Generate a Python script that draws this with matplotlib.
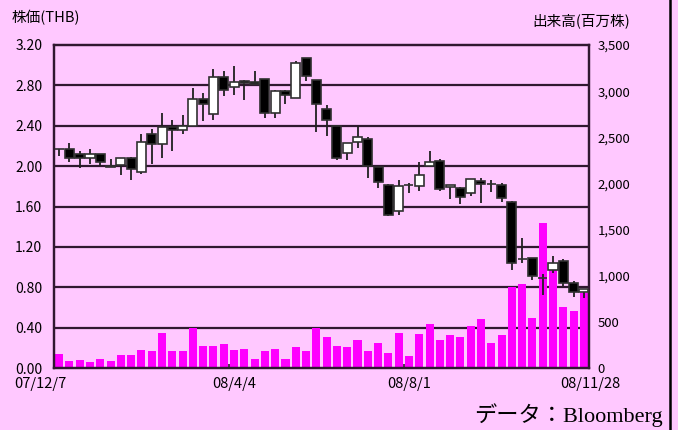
import numpy as np
import matplotlib
matplotlib.use("Agg")
from matplotlib import pyplot as plt
from matplotlib.lines import Line2D
from matplotlib.transforms import blended_transform_factory
from matplotlib.ticker import FuncFormatter

plt.rcParams['font.family'] = ['Noto Sans CJK JP', 'DejaVu Sans']

# weekly candles, 07/12/7 .. 08/11/28
opens = [2.17, 2.165, 2.12, 2.08, 2.12, 2.00, 2.01, 2.08, 1.94, 2.32,
         2.215, 2.385, 2.36, 2.40, 2.665, 2.515, 2.885, 2.78, 2.84, 2.83,
         2.86, 2.53, 2.745, 2.67, 3.07, 2.85, 2.565, 2.395, 2.13, 2.235,
         2.265, 1.995, 1.81, 1.555, 1.81, 1.805, 2.005, 2.05, 1.79, 1.78,
         1.735, 1.85, 1.82, 1.81, 1.64, 1.08, 1.09, 0.895, 0.975, 1.06,
         0.845, 0.75]
highs = [2.17, 2.23, 2.15, 2.165, 2.12, 2.07, 2.08, 2.09, 2.32, 2.37,
         2.53, 2.46, 2.505, 2.77, 2.72, 2.96, 2.94, 2.99, 2.85, 2.94,
         2.86, 2.75, 2.75, 3.045, 3.07, 2.85, 2.605, 2.40, 2.23, 2.395,
         2.285, 1.995, 1.82, 1.86, 1.835, 2.045, 2.15, 2.07, 1.81, 1.79,
         1.875, 1.88, 1.86, 1.83, 1.65, 1.285, 1.09, 0.93, 1.11, 1.075,
         0.86, 0.78]
lows = [2.10, 2.04, 1.98, 2.02, 2.00, 1.99, 1.91, 1.86, 1.92, 2.02,
        2.08, 2.15, 2.32, 2.40, 2.45, 2.455, 2.69, 2.70, 2.66, 2.80,
        2.475, 2.475, 2.615, 2.67, 2.845, 2.34, 2.30, 2.06, 2.06, 2.175,
        1.88, 1.78, 1.505, 1.515, 1.73, 1.755, 2.00, 1.755, 1.67, 1.62,
        1.705, 1.63, 1.745, 1.64, 0.975, 1.045, 0.87, 0.72, 0.945, 0.81,
        0.70, 0.69]
closes = [2.17, 2.085, 2.08, 2.12, 2.04, 1.99, 2.08, 1.97, 2.24, 2.215,
          2.385, 2.355, 2.40, 2.665, 2.615, 2.885, 2.75, 2.83, 2.82, 2.81,
          2.53, 2.745, 2.70, 3.02, 2.895, 2.615, 2.455, 2.085, 2.23, 2.285,
          2.00, 1.845, 1.515, 1.805, 1.81, 1.91, 2.045, 1.775, 1.81, 1.69,
          1.875, 1.82, 1.82, 1.685, 1.045, 1.08, 0.915, 0.895, 1.045, 0.845,
          0.755, 0.78]
volumes = [152, 76, 87, 65, 98, 76, 141, 141, 195, 184,
           379, 184, 184, 433, 238, 238, 260, 195, 206, 98,
           184, 206, 98, 228, 184, 437, 340, 242, 231, 307,
           188, 274, 163, 383, 134, 372, 480, 307, 361, 340,
           459, 534, 274, 361, 878, 910, 545, 1575, 1070, 664,
           621, 809]

date_labels = ['07/12/7', '08/4/4', '08/8/1', '08/11/28']
date_pos = [-1.85, 17, 34, 51.6]
minor_pos = [7.9, 16.5, 25.0, 33.5, 42.0]
price_ticks = [0.0, 0.4, 0.8, 1.2, 1.6, 2.0, 2.4, 2.8, 3.2]
vol_ticks = [0, 500, 1000, 1500, 2000, 2500, 3000, 3500]

bg = '#ffc8ff'
frame = '#301830'

fig = plt.figure(figsize=(6.78, 4.30), dpi=100, facecolor=bg)
axv = fig.add_axes([54/678, 1-368/430, 535/678, 323/430])
ax = axv.twinx()
axv.set_facecolor(bg)
ax.set_zorder(axv.get_zorder() + 1)
ax.patch.set_visible(False)

x = np.arange(len(closes))

# volume (right scale), drawn under the candles
for p in price_ticks[1:-1]:
    axv.axhline(p / 3.2 * 3500, color=frame, lw=1.6, zorder=1)
axv.bar(x, volumes, width=0.78, color='#ff00ff', zorder=2)
axv.set_ylim(0, 3500)
axv.set_xlim(-0.5, len(closes) - 0.5)

# candles (left scale)
o = np.array(opens)
c = np.array(closes)
body_col = ['white' if cc > oo else 'black' for oo, cc in zip(o, c)]
ax.vlines(x, lows, highs, color='#202020', lw=1.3, zorder=2)
ax.bar(x, c - o, bottom=o, width=0.88, color=body_col,
       edgecolor='#303030', linewidth=1.2, zorder=3)
ax.set_ylim(0, 3.2)

# left price axis labels, right volume labels
ax.yaxis.set_label_position('left')
ax.yaxis.tick_left()
ax.set_yticks(price_ticks)
ax.yaxis.set_major_formatter(FuncFormatter(lambda v, p: '%.2f' % v))
ax.tick_params(axis='y', length=0, pad=8.5, labelsize=10)

axv.yaxis.tick_right()
axv.set_yticks(vol_ticks)
axv.yaxis.set_major_formatter(FuncFormatter(lambda v, p: '{:,.0f}'.format(v)))
axv.tick_params(axis='y', length=0, pad=6, labelsize=9.5)

# date labels as text, the first one sits left of the frame
axv.set_xticks([])
axv.set_xticks(minor_pos, minor=True)
axv.tick_params(axis='x', which='minor', direction='in', length=3,
                width=1.2, color=frame)
ax.set_xticks([])
tr = blended_transform_factory(axv.transData, fig.transFigure)
for pos, lab in zip(date_pos, date_labels):
    axv.text(pos, 1-384/430, lab, transform=tr, ha='center', va='center',
             fontsize=10.5, clip_on=False)

for a in (ax, axv):
    for s in a.spines.values():
        s.set_color(frame)
        s.set_linewidth(1.6)

fig.text(12/678, 1-18/430, '株価(THB)', fontsize=10.5, va='center', ha='left')
fig.text(630/678, 1-21/430, '出来高(百万株)', fontsize=10.5, va='center', ha='right')
fig.text(663/678, 1-415/430, 'データ：Bloomberg', fontsize=16, va='center', ha='right',
         family=['Liberation Serif', 'Noto Sans CJK JP'])

fig.add_artist(Line2D([670/678, 670/678], [0, 1], transform=fig.transFigure,
                      color='black', lw=1.8))

fig.savefig('out.png', dpi=100, facecolor=bg)
